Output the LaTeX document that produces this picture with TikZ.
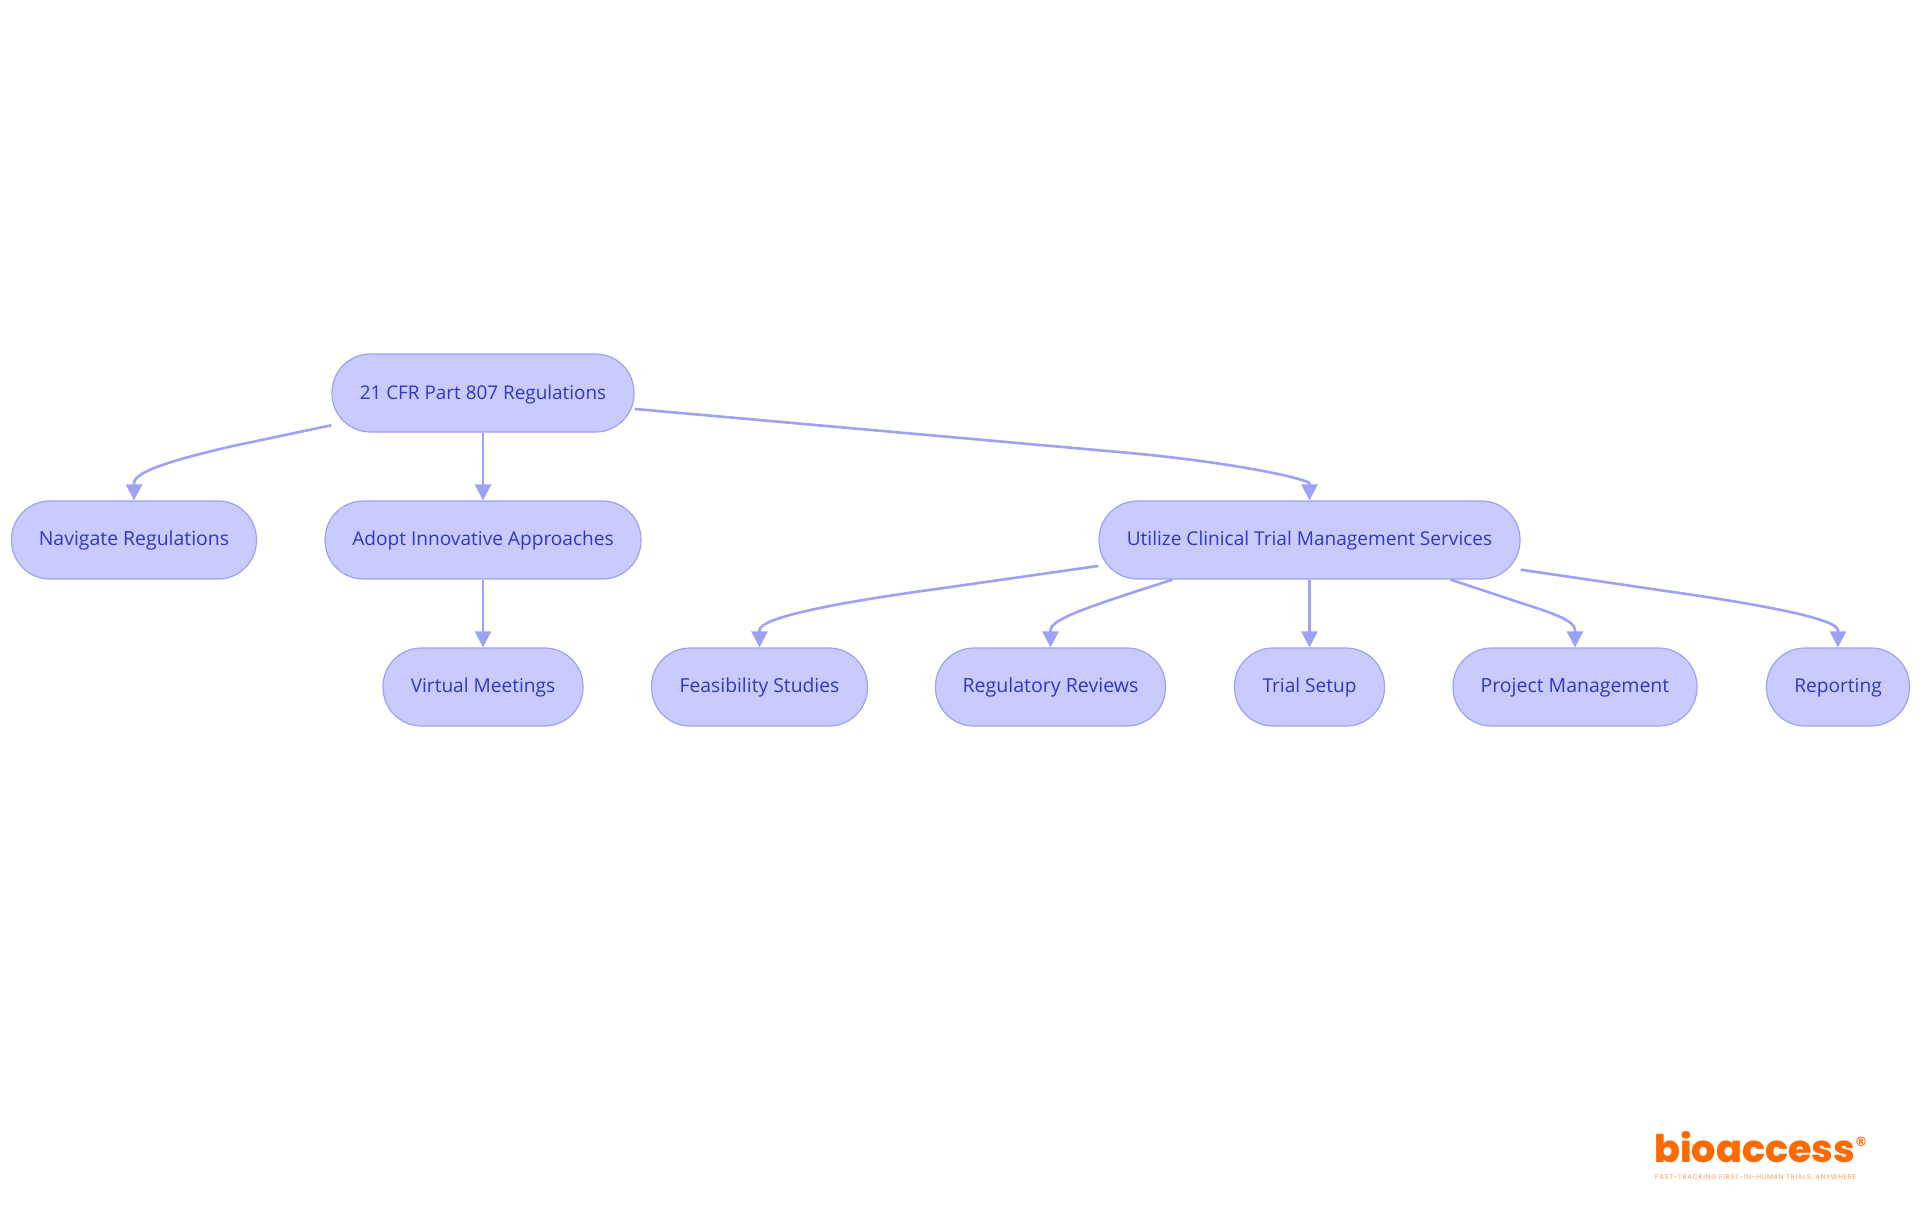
\documentclass[tikz,border=0pt]{standalone}
\usepackage{fontspec}
\setmainfont{Open Sans}
\newfontfamily\logofont{Poppins}[BoldFont=* ExtraBold]
\newfontfamily\tagfont{Poppins}[LetterSpace=10]
\newfontfamily\regfont{DejaVu Sans}
\usetikzlibrary{arrows.meta,calc}
\definecolor{nodefill}{HTML}{C9CBFE}
\definecolor{nodeline}{HTML}{9EA2F5}
\definecolor{nodetext}{HTML}{3036C8}
\definecolor{logoorange}{HTML}{FF6A00}
\newcommand{\lbl}[2]{\resizebox{#1pt}{!}{#2}}
\tikzset{
  pill/.style={draw=nodeline, fill=nodefill, line width=1.2pt, rounded corners=38.5pt,
    minimum height=78pt, inner sep=0pt, text=nodetext, font=\fontsize{19.2pt}{24pt}\selectfont,
    text height=14pt, text depth=4pt},
  link/.style={draw=nodeline, line width=2.6pt, -{Triangle[length=16pt,width=16pt,fill=nodeline]}}
}
\begin{document}
\begin{tikzpicture}[x=1pt,y=-1pt]
\useasboundingbox (0,0) rectangle (1920,1215);
\fill[white] (0,0) rectangle (1920,1215);
\node[pill,minimum width=302pt,text depth=1pt] (root) at (483,393) {\lbl{246.5}{21 CFR Part 807 Regulations}};
\node[pill,minimum width=245pt] (nav) at (134,540) {\lbl{190.4}{Navigate Regulations}};
\node[pill,minimum width=316pt] (adopt) at (483,540) {\lbl{261.4}{Adopt Innovative Approaches}};
\node[pill,minimum width=421pt] (util) at (1309.5,540) {\lbl{365.4}{Utilize Clinical Trial Management Services}};
\node[pill,minimum width=200pt] (virt) at (483,687) {\lbl{144.5}{Virtual Meetings}};
\node[pill,minimum width=216pt] (feas) at (759.5,687) {\lbl{159.8}{Feasibility Studies}};
\node[pill,minimum width=230pt] (regr) at (1050.5,687) {\lbl{175.7}{Regulatory Reviews}};
\node[pill,minimum width=150pt] (trial) at (1309.5,687) {\lbl{94}{Trial Setup}};
\node[pill,minimum width=244pt] (proj) at (1575,687) {\lbl{188.6}{Project Management}};
\node[pill,minimum width=143pt] (rep) at (1838,687) {\lbl{87.5}{Reporting}};

\draw[link] (root.192) -- (233,446) .. controls (170,460.5) and (134,472) .. ($(nav.north)+(0,-17)$) -- (nav.north);
\draw[link] (root.south) -- (adopt.north);
\draw[link] (root.354.9) -- (1130,453) .. controls (1245,463.8) and (1309.5,480) .. ($(util.north)+(0,-17)$) -- (util.north);
\draw[link] (adopt.south) -- (virt.north);
\draw[link] (util.187.6) -- (940,588.5) .. controls (830,603.5) and (759.5,618) .. ($(feas.north)+(0,-17)$) -- (feas.north);
\draw[link] ($(util.south)+(-137,0)$) -- (1125,595) .. controls (1085,608.5) and (1050.5,620) .. ($(regr.north)+(0,-17)$) -- (regr.north);
\draw[link] (util.south) -- (trial.north);
\draw[link] ($(util.south)+(141,0)$) -- (1500,596) .. controls (1540,609.7) and (1575,618) .. ($(proj.north)+(0,-17)$) -- (proj.north);
\draw[link] (util.352.15) -- (1700,596) .. controls (1775,607.3) and (1838,620) .. ($(rep.north)+(0,-17)$) -- (rep.north);

\node[inner sep=0pt,anchor=base west,text=logoorange] (logo) at (1654,1162)
  {\resizebox{201pt}{31pt}{\logofont\bfseries bioaccess}};
\node[inner sep=0pt,text=logoorange,font=\regfont\bfseries\fontsize{13pt}{13pt}\selectfont] (reg) at (1861,1142) {®};
\node[inner sep=0pt,anchor=base west,text=logoorange!65] (tag) at (1655,1179)
  {\resizebox{201pt}{!}{\tagfont\fontsize{6.4pt}{7pt}\selectfont FAST-TRACKING FIRST-IN-HUMAN TRIALS, ANYWHERE}};
\end{tikzpicture}
\end{document}
